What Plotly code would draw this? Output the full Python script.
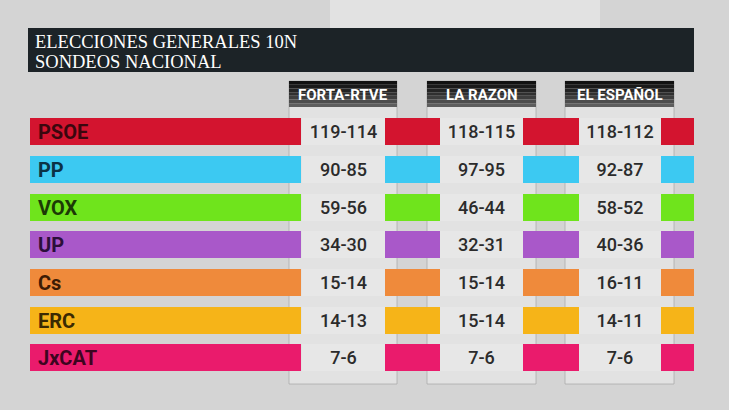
import plotly.graph_objects as go

# ---------------- data ----------------
parties = ["PSOE", "PP", "VOX", "UP", "Cs", "ERC", "JxCAT"]
pollsters = ["FORTA-RTVE", "LA RAZON", "EL ESPAÑOL"]
forta_rtve = ["119-114", "90-85", "59-56", "34-30", "15-14", "14-13", "7-6"]
la_razon = ["118-115", "97-95", "46-44", "32-31", "15-14", "15-14", "7-6"]
el_espanol = ["118-112", "92-87", "58-52", "40-36", "16-11", "14-11", "7-6"]
title_lines = ["ELECCIONES GENERALES 10N", "SONDEOS NACIONAL"]

party_colors = ["#d3142f", "#3cc9f2", "#6fe41c", "#a958c9", "#ef8a3b", "#f6b418", "#ea1b6c"]
label_colors = ["#3a070e", "#0b3246", "#1c3a06", "#2c0f3a", "#3d1c05", "#3b2a02", "#3d0520"]

# ---------------- layout constants (pixels) ----------------
W, H = 729, 410
FONT = "Roboto, sans-serif"
name_bar = (30, 301)
cells = [(302, 385), (440, 523), (579, 661)]
stubs = [(385, 440), (523, 579), (661, 694)]
headers = [(289, 397), (427, 536), (565, 674)]
row_top, row_bottom = 132, 358  # row centres
n = len(parties)
sp = (row_bottom - row_top) / (n - 1)
dom_top = 1 - (row_top - sp / 2) / H
dom_bot = 1 - (row_bottom + sp / 2) / H
bar_w = 27.0 / sp


def py(px):
    return 1 - px / H


fig = go.Figure()

# party name bars
fig.add_trace(go.Bar(
    y=parties, x=[name_bar[1] - name_bar[0]] * n, base=[name_bar[0]] * n,
    orientation="h", width=bar_w, marker=dict(color=party_colors, line=dict(width=0)),
    text=["\u00a0" + p for p in parties], textposition="inside", insidetextanchor="start",
    constraintext="none",
    textfont=dict(family=FONT, size=20, color=label_colors, weight="bold"),
    hoverinfo="skip", showlegend=False,
))

# value cells
for (l, r), vals in zip(cells, [forta_rtve, la_razon, el_espanol]):
    fig.add_trace(go.Bar(
        y=parties, x=[r - l] * n, base=[l] * n, orientation="h", width=bar_w,
        marker=dict(color="#e7e7e7", line=dict(width=0)),
        text=vals, textposition="inside", insidetextanchor="middle",
        constraintext="none",
        textfont=dict(family=FONT, size=18, color="#2b2b2b", weight=500),
        hoverinfo="skip", showlegend=False,
    ))

# colour stubs
for (l, r) in stubs:
    fig.add_trace(go.Bar(
        y=parties, x=[r - l] * n, base=[l] * n, orientation="h", width=bar_w,
        marker=dict(color=party_colors, line=dict(width=0)),
        hoverinfo="skip", showlegend=False,
    ))

shapes = []
# background texture-ish lighter panels
shapes.append(dict(type="rect", xref="x", yref="paper", x0=330, x1=600, y0=py(0), y1=py(28),
                   fillcolor="#e2e2e2", line=dict(width=0), layer="below"))
# column panels
for (l, r) in headers:
    shapes.append(dict(type="rect", xref="x", yref="paper", x0=l, x1=r, y0=py(384), y1=py(81),
                       fillcolor="rgba(236,236,236,0.55)", line=dict(color="rgba(165,165,165,0.7)", width=1),
                       layer="below"))
# title box
shapes.append(dict(type="rect", xref="x", yref="paper", x0=28, x1=694, y0=py(72), y1=py(28),
                   fillcolor="#1c2327", line=dict(width=0), layer="below"))
# header boxes (faked vertical gradient)
grad = ["#111111", "#1a1a1a", "#242424", "#303030", "#3e3e3e", "#4d4d4d", "#5e5e5e"]
for (l, r) in headers:
    top, bot = 81, 107
    step = (bot - top) / len(grad)
    for k, c in enumerate(grad):
        shapes.append(dict(type="rect", xref="x", yref="paper", x0=l, x1=r,
                           y0=py(top + (k + 1) * step), y1=py(top + k * step),
                           fillcolor=c, line=dict(width=0), layer="below"))

annotations = []
for i, t in enumerate(title_lines):
    annotations.append(dict(x=33, y=py(42 + 20 * i), xref="x", yref="paper", text=t,
                            showarrow=False, xanchor="left", yanchor="middle",
                            font=dict(family="Liberation Serif, serif", size=18.5, color="white")))
for (l, r), name in zip(headers, pollsters):
    annotations.append(dict(x=(l + r) / 2, y=py(95), xref="x", yref="paper", text=name,
                            showarrow=False, xanchor="center", yanchor="middle",
                            font=dict(family=FONT, size=15, color="white", weight="bold")))

fig.update_layout(
    width=W, height=H, margin=dict(l=0, r=0, t=0, b=0),
    paper_bgcolor="#d4d4d4", plot_bgcolor="rgba(0,0,0,0)",
    barmode="overlay", bargap=0,
    xaxis=dict(range=[0, W], domain=[0, 1], visible=False, fixedrange=True),
    yaxis=dict(type="category", categoryorder="array", categoryarray=parties,
               range=[n - 0.5, -0.5], domain=[dom_bot, dom_top], visible=False, fixedrange=True),
    shapes=shapes, annotations=annotations,
)

fig.write_html("out.html", config={"displayModeBar": False},
               post_script="document.body.style.margin='0px';document.body.style.overflow='hidden';")
